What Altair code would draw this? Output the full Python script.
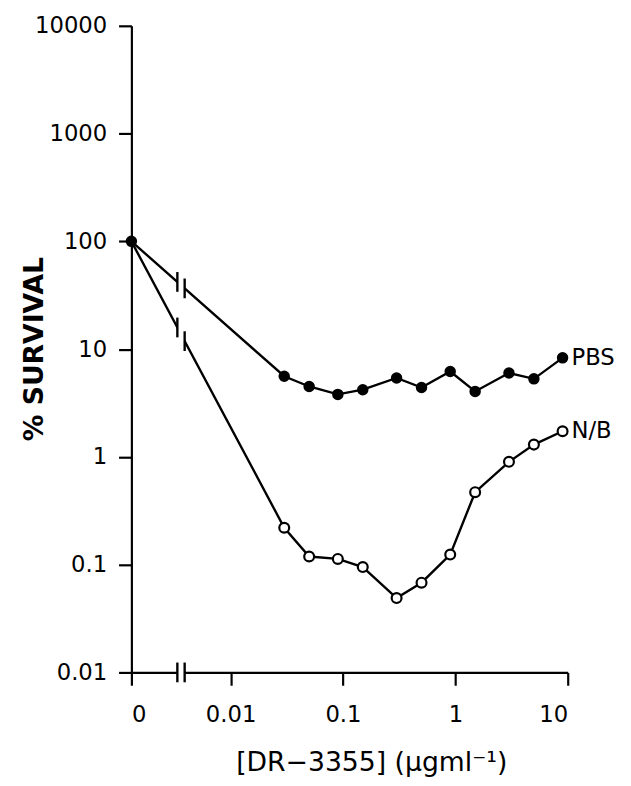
import math
import altair as alt
import pandas as pd

# ---- data ----
CONC = [0, 0.03, 0.05, 0.09, 0.15, 0.3, 0.5, 0.9, 1.5, 3, 5, 9]
PBS = [100, 5.6, 4.5, 3.8, 4.2, 5.4, 4.4, 6.2, 4.05, 6.0, 5.3, 8.3]
NB = [100, 0.22, 0.119, 0.113, 0.095, 0.049, 0.068, 0.124, 0.47, 0.90, 1.30, 1.73]
SERIES = ["PBS", "N/B"]
X_TICKS = [0, 0.01, 0.1, 1, 10]
X_TICK_LABELS = ["0", "0.01", "0.1", "1", "10"]
Y_TICKS = [0.01, 0.1, 1, 10, 100, 1000, 10000]

# ---- layout constants (axis break geometry, in log10 units) ----
ZERO_POS = -2.883
BREAK_L = -2.474
BREAK_R = -2.409
FONT = "DejaVu Sans"


def xpos(c):
    return ZERO_POS if c == 0 else math.log10(c)


rows = []
for name, vals in zip(SERIES, [PBS, NB]):
    for i, (c, v) in enumerate(zip(CONC, vals)):
        rows.append({"series": name, "conc": c, "x": xpos(c), "y": v, "order": i})
df = pd.DataFrame(rows)

# break marks along each line (on the drawn segment)
brk = []
for name, vals in zip(SERIES, [PBS, NB]):
    x0, y0 = xpos(CONC[0]), math.log10(vals[0])
    x1, y1 = xpos(CONC[1]), math.log10(vals[1])
    for bx in (BREAK_L, BREAK_R):
        t = (bx - x0) / (x1 - x0)
        brk.append({"x": bx, "y": 10 ** (y0 + t * (y1 - y0))})
for bx in (BREAK_L, BREAK_R):
    brk.append({"x": bx, "y": 0.01})
brk_df = pd.DataFrame(brk)
band_df = pd.DataFrame({"a": [BREAK_L], "b": [BREAK_R]})

xscale = alt.Scale(domain=[ZERO_POS, 1], nice=False, zero=False)
yscale = alt.Scale(type="log", domain=[0.01, 10000], nice=False)

x_vals = [xpos(v) for v in X_TICKS]
pairs = ",".join(f"{xpos(v)!r}:'{l}'" for v, l in zip(X_TICKS, X_TICK_LABELS))

xaxis = alt.Axis(
    values=x_vals,
    labelExpr="datum.value < -2.5 ? '" + X_TICK_LABELS[0] + "' : format(pow(10, datum.value), '~g')",
    title="[DR\u22123355] (\u03bcgml\u207b\u00b9)",
    titleFont=FONT, titleFontSize=27, titleFontWeight="normal",
    titleX=243, titleY=99, titleAlign="center", titleBaseline="alphabetic",
    labelFont=FONT, labelFontSize=23, labelPadding=19,
    tickSize=13, grid=False,
)
yaxis = alt.Axis(
    values=Y_TICKS, format="~g",
    title="% SURVIVAL",
    titleFont=FONT, titleFontSize=27, titleFontWeight="bold",
    titleX=-98, titleY=327, titleAngle=270, titleAlign="center", titleBaseline="middle",
    labelFont=FONT, labelFontSize=23, labelPadding=12,
    tickSize=13, grid=False,
)

base = alt.Chart(df)

lines = base.mark_line(color="black", strokeWidth=2.4).encode(
    x=alt.X("x:Q", scale=xscale, axis=xaxis),
    y=alt.Y("y:Q", scale=yscale, axis=yaxis),
    detail="series:N",
    order="order:Q",
)

band = alt.Chart(band_df).mark_rect(color="white", yOffset=4).encode(
    x=alt.X("a:Q", scale=xscale),
    x2="b:Q",
    y=alt.datum(0.01, scale=yscale),
    y2=alt.datum(10000),
)

brk_rules = alt.Chart(brk_df).mark_rule(color="black", strokeWidth=2.4, yOffset=-10, y2Offset=10).encode(
    x=alt.X("x:Q", scale=xscale),
    y=alt.Y("y:Q", scale=yscale),
    y2="y:Q",
)

nb_pts = base.transform_filter("datum.series == 'N/B' && datum.conc > 0").mark_point(
    shape="circle", filled=True, fill="white", stroke="black", strokeWidth=2.2, size=100, opacity=1
).encode(x=alt.X("x:Q", scale=xscale), y=alt.Y("y:Q", scale=yscale))

pbs_pts = base.transform_filter("datum.series == 'PBS'").mark_circle(
    color="black", size=135, opacity=1
).encode(x=alt.X("x:Q", scale=xscale), y=alt.Y("y:Q", scale=yscale))

last = df[df["order"] == len(CONC) - 1]
labels = alt.Chart(last).mark_text(
    align="left", baseline="middle", dx=9, font=FONT, fontSize=23, color="black"
).encode(x=alt.X("x:Q", scale=xscale), y=alt.Y("y:Q", scale=yscale), text="series:N")

chart = alt.layer(lines, band, brk_rules, nb_pts, pbs_pts, labels).properties(
    width=442, height=655,
    autosize=alt.AutoSizeParams(type="none"),
    padding={"left": 125, "top": 13, "right": 56, "bottom": 110},
).configure_view(stroke=None).configure_axis(
    domainColor="black", domainWidth=2.2, tickColor="black", tickWidth=2.2,
    labelColor="black", titleColor="black",
)

chart.save("out.html", embed_options={"renderer": "svg", "actions": False})
